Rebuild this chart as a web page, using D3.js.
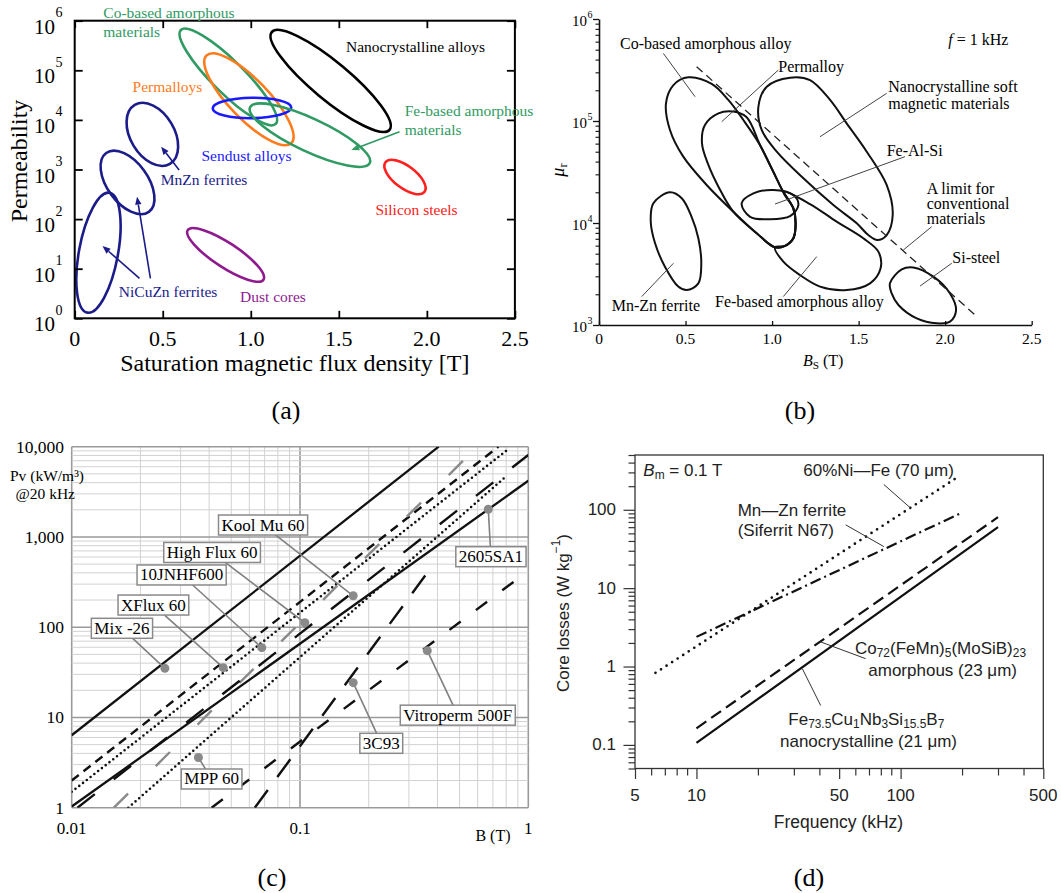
<!DOCTYPE html>
<html><head><meta charset="utf-8">
<script src="https://cdn.jsdelivr.net/npm/d3@7/dist/d3.min.js"></script>
<style>
html,body{margin:0;padding:0;background:#fff;}
svg{display:block;}
</style></head><body>
<svg id="fig" width="1061" height="893"></svg>
<script>
// ================= DATA =================
// ---- Panel (a): permeability vs saturation flux density (ellipse = major-axis ends + aspect) ----
const aNames   = ["NiCuZn ferrites (low)","NiCuZn ferrites (high)","MnZn ferrites","Dust cores","Co-based amorphous materials","Permalloys","Nanocrystalline alloys","Sendust alloys","Fe-based amorphous materials","Silicon steels"];
const aBsStart = [0.198, 0.179, 0.341, 0.642, 0.603, 0.749, 1.119, 0.784, 0.996, 1.765];
const aMuStart = [340, 2150, 20000, 60, 650000, 200000, 590000, 17000, 18000, 1400];
const aBsEnd   = [0.072, 0.421, 0.541, 1.072, 1.142, 1.230, 1.788, 1.230, 1.676, 1.987];
const aMuEnd   = [1.3, 140, 1300, 6, 8300, 3400, 6300, 17800, 1350, 355];
const aAspect  = [0.32, 0.56, 0.64, 0.27, 0.24, 0.32, 0.245, 0.26, 0.25, 0.45];
const aXTicks  = [0, 0.5, 1.0, 1.5, 2.0, 2.5];
const aXTickLabels = ["0","0.5","1.0","1.5","2.0","2.5"];
const aYTicks  = [1, 10, 100, 1e3, 1e4, 1e5, 1e6];
const aYTickExp = ["0","1","2","3","4","5","6"];
const aArrowFromBs = [1.845, 0.593, 0.368, 0.430];
const aArrowFromMu = [5790, 977, 6.4, 6.4];
const aArrowToBs   = [1.571, 0.491, 0.158, 0.354];
const aArrowToMu   = [2470, 2880, 28.7, 283];

// ---- Panel (b): mu_r vs Bs at 1 kHz (closed outlines as [Bs, mu] points) ----
const bCoBased = [[0.516,268000],[0.651,231000],[0.747,161000],[0.834,102300],[0.930,58200],[1.007,31800],[1.061,20700],[1.123,13900],[1.136,9930],[1.123,7080],[1.075,5960],[1.017,5770],[0.911,7930],[0.776,12900],[0.622,23600],[0.487,44700],[0.410,81700],[0.387,149000],[0.430,225000]];
const bPermalloy = [[0.776,123600],[0.853,108600],[0.930,58200],[1.007,31800],[1.061,20700],[1.123,13900],[1.136,9930],[1.123,7080],[1.075,5960],[1.017,5770],[0.911,7930],[0.776,12900],[0.690,22700],[0.632,37100],[0.595,60400],[0.612,91400],[0.690,118900]];
const bNanocryst = [[1.104,266000],[1.219,252000],[1.335,161000],[1.431,94800],[1.547,50000],[1.662,23600],[1.697,11970],[1.662,7620],[1.608,6810],[1.556,7620],[1.489,9930],[1.354,15000],[1.181,27400],[1.027,50000],[0.940,81700],[0.921,138400],[0.969,217000]];
const bFeAlSi = [[0.824,15600],[0.892,19500],[1.007,21100],[1.123,18800],[1.152,15000],[1.104,11700],[0.988,10900],[0.873,11500]];
const bFeBased = [[1.065,20300],[1.219,15350],[1.373,10300],[1.527,7080],[1.614,5240],[1.627,3600],[1.566,2560],[1.431,2200],[1.277,2380],[1.161,3090],[1.065,4180],[1.017,5770],[1.075,5960],[1.123,7080],[1.136,9930],[1.123,13900]];
const bMnZn = [[0.410,20000],[0.478,17500],[0.535,11500],[0.574,7080],[0.591,4030],[0.574,2560],[0.507,2200],[0.458,2380],[0.381,3730],[0.324,6320],[0.299,10300],[0.314,15600]];
const bSiSteel = [[1.681,2560],[1.749,3510],[1.816,3670],[1.932,2980],[2.028,2040],[2.063,1400],[2.028,1080],[1.951,1040],[1.836,1160],[1.730,1570],[1.691,2040]];
const bLimitBs = [0.564, 2.173];
const bLimitMu = [341000, 1254];
const bXTicks = [0, 0.5, 1.0, 1.5, 2.0, 2.5];
const bXTickLabels = ["0","0.5","1.0","1.5","2.0","2.5"];
const bYTicks = [1e3, 1e4, 1e5, 1e6];
const bYTickExp = ["3","4","5","6"];
const bLeaderFromBs = [0.372, 1.036, 1.662, 1.768, 1.922, 2.038, 1.065, 0.247];
const bLeaderFromMu = [460000, 316000, 186600, 44700, 9200, 4030, 1900, 1900];
const bLeaderToBs   = [0.555, 0.709, 1.277, 1.017, 1.758, 1.855, 1.258, 0.430];
const bLeaderToMu   = [173000, 98400, 70100, 15350, 5430, 2410, 4680, 4030];

// ---- Panel (c): core loss Pv vs B at 20 kHz (power-law lines, two end points) ----
const cNames  = ["Mix -26","XFlux 60","10JNHF600","High Flux 60","Kool Mu 60","2605SA1","MPP 60","3C93","Vitroperm 500F"];
const cB1 = [0.01, 0.01, 0.01, 0.0153, 0.0106, 0.01, 0.0177, 0.0634, 0.041];
const cP1 = [6.35, 2.0, 1.5, 1, 1, 1.03, 1, 1, 1];
const cB2 = [0.405, 0.74, 0.8, 0.544, 1, 1, 0.8, 0.378, 0.917];
const cP2 = [10000, 10000, 9000, 7900, 8100, 4190, 4700, 470, 357];
const cDotB = [0.0256, 0.0461, 0.068, 0.105, 0.171, 0.668, 0.0359, 0.171, 0.361];
const cDotP = [35, 35.6, 59.3, 112, 223, 2025, 3.6, 24.3, 55];
const cLabelB = [0.0166, 0.0228, 0.0303, 0.0412, 0.0689, 0.686, 0.041, 0.227, 0.491];
const cLabelP = [97.2, 176, 379, 673, 1356, 604, 2.08, 5.17, 10.6];
const cXTicks = [0.01, 0.1, 1];
const cXTickLabels = ["0.01","0.1","1"];
const cYTicks = [1, 10, 100, 1000, 10000];
const cYTickLabels = ["1","10","100","1,000","10,000"];

// ---- Panel (d): core losses vs frequency at Bm = 0.1 T ----
const dNames = ["60%Ni—Fe (70 μm)","Mn—Zn ferrite (Siferrit N67)","Co72(FeMn)5(MoSiB)23 amorphous","Fe73.5Cu1Nb3Si15.5B7 nanocrystalline"];
const dF1 = [6.3, 10, 10, 10];
const dL1 = [0.83, 2.39, 0.163, 0.106];
const dF2 = [193, 200, 300, 300];
const dL2 = [267, 92, 80.6, 60];
const dXTicks = [5, 10, 50, 100, 500];
const dXTickLabels = ["5","10","50","100","500"];
const dYTicks = [0.1, 1, 10, 100];
const dYTickLabels = ["0.1","1","10","100"];
const dLeaderFromF = [82.8, 53.8, 67.4, 40.6];
const dLeaderFromL = [210, 64.3, 1.26, 0.318];
const dLeaderToF   = [112, 82.8, 40.6, 33];
const dLeaderToL   = [105, 33.9, 2.06, 0.94];

// ================= DRAWING =================
const SERIF = '"Liberation Serif","Times New Roman",serif';
const SANS  = '"Liberation Sans",Arial,sans-serif';
const svg = d3.select("#fig");

function txt(g, x, y, s, o = {}) {
  const fs = o.size || 16;
  const t = g.append("text").attr("x", x).attr("y", y)
    .attr("dominant-baseline", "central")
    .attr("font-family", o.family || SERIF).attr("font-size", fs)
    .attr("fill", o.color || "#000").attr("text-anchor", o.anchor || "start");
  if (o.style) t.attr("font-style", o.style);
  if (o.transform) t.attr("transform", o.transform);
  if (typeof s === "string") { t.text(s); return t; }
  let cur = 0;
  s.forEach(([str, k]) => {
    const off = k === "sub" ? fs * 0.3 : (k === "sup" ? -fs * 0.42 : 0);
    const sp = t.append("tspan").attr("dy", off - cur).text(str);
    if (k === "sub" || k === "sup") sp.attr("font-size", fs * 0.7);
    if (k === "i") sp.attr("font-style", "italic");
    cur = off;
  });
  return t;
}
function styleTicks(sel, color, w) {
  sel.select(".domain").remove();
  sel.selectAll(".tick line").attr("stroke", color).attr("stroke-width", w);
  sel.selectAll(".tick text").remove();
}
function minorLog(lo, hi) {
  const out = [];
  for (let e = Math.floor(Math.log10(lo)); e <= Math.ceil(Math.log10(hi)); e++)
    for (let m = 1; m <= 9; m++) { const v = m * Math.pow(10, e); if (v >= lo * 0.999 && v <= hi * 1.001) out.push(v); }
  return out;
}

// ---------- Panel (a) ----------
{
  const g = svg.append("g");
  const x = d3.scaleLinear().domain([0, 2.5]).range([74.7, 514.9]);
  const y = d3.scaleLog().domain([1, 1e6]).range([318.3, 20.7]);
  const [x0, x1] = x.range(), [y0, y1] = y.range();
  const colors = ["#1b1b8a","#1b1b8a","#1b1b8a","#8e1a8e","#2f9a62","#ff7b1c","#000000","#1a1aff","#2f9a62","#ff2020"];

  aBsStart.forEach((b, i) => {
    const px1 = x(b), py1 = y(aMuStart[i]), px2 = x(aBsEnd[i]), py2 = y(aMuEnd[i]);
    const cx = (px1 + px2) / 2, cy = (py1 + py2) / 2;
    const a = Math.hypot(px2 - px1, py2 - py1) / 2;
    const ang = Math.atan2(py2 - py1, px2 - px1) * 180 / Math.PI;
    g.append("ellipse").attr("cx", cx).attr("cy", cy).attr("rx", a).attr("ry", a * aAspect[i])
      .attr("transform", `rotate(${ang},${cx},${cy})`)
      .attr("fill", "none").attr("stroke", colors[i]).attr("stroke-width", 2.6);
  });

  const arrowColors = ["#2f9a62", "#1b1b8a", "#1b1b8a", "#1b1b8a"];
  aArrowFromBs.forEach((b, i) => {
    const xa = x(b), ya = y(aArrowFromMu[i]), xb = x(aArrowToBs[i]), yb = y(aArrowToMu[i]);
    const ang = Math.atan2(yb - ya, xb - xa), L = 8, W = 3.2;
    const bx = xb - L * Math.cos(ang), by = yb - L * Math.sin(ang);
    g.append("line").attr("x1", xa).attr("y1", ya).attr("x2", bx).attr("y2", by)
      .attr("stroke", arrowColors[i]).attr("stroke-width", 1.6);
    g.append("polygon").attr("points", [
      [xb, yb], [bx - W * Math.sin(ang), by + W * Math.cos(ang)], [bx + W * Math.sin(ang), by - W * Math.cos(ang)]
    ].map(p => p.join(",")).join(" ")).attr("fill", arrowColors[i]);
  });

  g.append("g").attr("transform", `translate(0,${y0})`).call(d3.axisBottom(x).tickValues(aXTicks).tickSize(-7.5).tickSizeOuter(0)).call(s => styleTicks(s, "#000", 1.8));
  g.append("g").attr("transform", `translate(0,${y1})`).call(d3.axisTop(x).tickValues(aXTicks).tickSize(-7.5).tickSizeOuter(0)).call(s => styleTicks(s, "#000", 1.8));
  g.append("g").attr("transform", `translate(${x0},0)`).call(d3.axisLeft(y).tickValues(aYTicks).tickSize(-8).tickSizeOuter(0)).call(s => styleTicks(s, "#000", 1.8));
  g.append("g").attr("transform", `translate(${x1},0)`).call(d3.axisRight(y).tickValues(aYTicks).tickSize(-8).tickSizeOuter(0)).call(s => styleTicks(s, "#000", 1.8));
  g.append("rect").attr("x", x0).attr("y", y1).attr("width", x1 - x0).attr("height", y0 - y1)
    .attr("fill", "none").attr("stroke", "#000").attr("stroke-width", 2);

  aXTicks.forEach((v, i) => txt(g, x(v), 338.5, aXTickLabels[i], { size: 22, anchor: "middle" }));
  aYTicks.forEach((v, i) => {
    txt(g, 55, y(v) + 6, "10", { size: 21, anchor: "end" });
    txt(g, 55.5, y(v) - 8, aYTickExp[i], { size: 14 });
  });
  txt(g, (x0 + x1) / 2 + 0, 363, "Saturation magnetic flux density [T]", { size: 24, anchor: "middle" });
  txt(g, 19, 161, "Permeability", { size: 24, anchor: "middle", transform: "rotate(-90,19,161)" });

  const labs = [
    ["Co-based amorphous", 103.3, 12.5, "#2f9a62"], ["materials", 103.3, 31, "#2f9a62"],
    ["Nanocrystalline alloys", 346, 46, "#000"],
    ["Permalloys", 132.6, 86, "#ff7b1c"],
    ["Fe-based amorphous", 404.7, 110, "#2f9a62"], ["materials", 404.7, 129, "#2f9a62"],
    ["Sendust alloys", 201.5, 155.7, "#1a1aff"],
    ["MnZn ferrites", 160.8, 179, "#1b1b8a"],
    ["Silicon steels", 375.4, 209.3, "#ff2020"],
    ["NiCuZn ferrites", 118.8, 291, "#1b1b8a"],
    ["Dust cores", 240, 296.7, "#8e1a8e"]
  ];
  labs.forEach(([s, lx, ly, c]) => txt(g, lx, ly, s, { size: 15.5, color: c }));
  txt(g, 286, 410, "(a)", { size: 26, anchor: "middle" });
}

// ---------- Panel (b) ----------
{
  const g = svg.append("g");
  const x = d3.scaleLinear().domain([0, 2.5]).range([599, 1031.7]);
  const y = d3.scaleLog().domain([1e3, 1e6]).range([325, 19]);
  const line = d3.line().x(d => x(d[0])).y(d => y(d[1])).curve(d3.curveCatmullRomClosed.alpha(0.5));
  [bCoBased, bPermalloy, bNanocryst, bFeAlSi, bFeBased, bMnZn, bSiSteel].forEach(pts => {
    g.append("path").attr("d", line(pts)).attr("fill", "none").attr("stroke", "#111").attr("stroke-width", 2);
  });
  g.append("line").attr("x1", x(bLimitBs[0])).attr("y1", y(bLimitMu[0])).attr("x2", x(bLimitBs[1])).attr("y2", y(bLimitMu[1]))
    .attr("stroke", "#222").attr("stroke-width", 1.3).attr("stroke-dasharray", "8,5");
  bLeaderFromBs.forEach((b, i) => {
    g.append("line").attr("x1", x(b)).attr("y1", y(bLeaderFromMu[i])).attr("x2", x(bLeaderToBs[i])).attr("y2", y(bLeaderToMu[i]))
      .attr("stroke", "#444").attr("stroke-width", 1);
  });
  // axes
  g.append("g").attr("transform", "translate(0,325)")
    .call(d3.axisBottom(x).tickValues(bXTicks).tickSize(-4).tickSizeOuter(0).tickFormat(""))
    .call(s => { s.select(".domain").attr("stroke", "#111").attr("stroke-width", 1.6); s.selectAll(".tick line").attr("stroke", "#111").attr("stroke-width", 1.3); });
  g.append("g").attr("transform", "translate(599,0)")
    .call(d3.axisLeft(y).tickValues(minorLog(1e3, 1e6).filter(v => !bYTicks.includes(v))).tickSize(3.5).tickSizeOuter(0).tickFormat(""))
    .call(s => { s.select(".domain").attr("stroke", "#111").attr("stroke-width", 1.6); s.selectAll(".tick line").attr("stroke", "#111").attr("stroke-width", 1.1); });
  g.append("g").attr("transform", "translate(599,0)")
    .call(d3.axisLeft(y).tickValues(bYTicks).tickSize(6).tickSizeOuter(0).tickFormat(""))
    .call(s => { s.select(".domain").remove(); s.selectAll(".tick line").attr("stroke", "#111").attr("stroke-width", 1.3); });
  bXTicks.forEach((v, i) => txt(g, x(v), 338.5, bXTickLabels[i], { size: 15.5, anchor: "middle" }));
  bYTicks.forEach((v, i) => {
    txt(g, 587, y(v) + 2, "10", { size: 15, anchor: "end" });
    txt(g, 587.5, y(v) - 5, bYTickExp[i], { size: 10 });
  });
  txt(g, 803, 360, [["B", "i"], ["S", "sub"], [" (T)", "n"]], { size: 16 });
  txt(g, 558, 170, [["μ", "i"], ["r", "sub"]], { size: 18, anchor: "middle", transform: "rotate(-90,558,170)" });
  const labs = [
    ["Co-based amorphous alloy", 620, 43.3], ["Permalloy", 778.3, 66],
    ["Nanocrystalline soft", 888.3, 86.7], ["magnetic materials", 888.3, 103.3],
    ["Fe-Al-Si", 886.7, 150.7],
    ["A limit for", 926.7, 188.3], ["conventional", 926.7, 203.3], ["materials", 926.7, 218.3],
    ["Si-steel", 952.3, 257.3], ["Fe-based amorphous alloy", 715, 301.7], ["Mn-Zn ferrite", 611.7, 305]
  ];
  labs.forEach(([s, lx, ly]) => txt(g, lx, ly, s, { size: 16 }));
  txt(g, 948.3, 39.3, [["f", "i"], [" = 1 kHz", "n"]], { size: 16 });
  txt(g, 800, 410, "(b)", { size: 26, anchor: "middle" });
}

// ---------- Panel (c) ----------
{
  const g = svg.append("g");
  const x = d3.scaleLog().domain([0.01, 1]).range([71.7, 528.3]);
  const y = d3.scaleLog().domain([1, 10000]).range([807.7, 446.7]);
  const [x0, x1] = x.range(), [y0, y1] = y.range();
  svg.append("clipPath").attr("id", "clipC").append("rect").attr("x", x0).attr("y", y1).attr("width", x1 - x0).attr("height", y0 - y1);
  // grid
  minorLog(0.01, 1).forEach(v => {
    const major = cXTicks.includes(v);
    g.append("line").attr("x1", x(v)).attr("x2", x(v)).attr("y1", y1).attr("y2", y0)
      .attr("stroke", major ? "#9a9a9a" : "#d2d2d2").attr("stroke-width", major ? 1.6 : 1);
  });
  minorLog(1, 10000).forEach(v => {
    const major = cYTicks.includes(v);
    g.append("line").attr("y1", y(v)).attr("y2", y(v)).attr("x1", x0).attr("x2", x1)
      .attr("stroke", major ? "#9a9a9a" : "#d2d2d2").attr("stroke-width", major ? 1.6 : 1);
  });
  const styles = {
    "Mix -26":        { c: "#111", w: 2.3, d: null },
    "XFlux 60":       { c: "#111", w: 2.4, d: "9,6" },
    "10JNHF600":      { c: "#111", w: 2.6, d: "0,4.8", cap: "round" },
    "High Flux 60":   { c: "#8a8a8a", w: 2.4, d: "20,39" },
    "Kool Mu 60":     { c: "#111", w: 2.4, d: "22,24" },
    "2605SA1":        { c: "#111", w: 2.3, d: null },
    "MPP 60":         { c: "#111", w: 2.6, d: "0,4.8", cap: "round" },
    "3C93":           { c: "#111", w: 2.4, d: "22,16" },
    "Vitroperm 500F": { c: "#111", w: 2.4, d: "14,19" }
  };
  const lg = g.append("g").attr("clip-path", "url(#clipC)");
  cNames.forEach((n, i) => {
    const st = styles[n];
    const l = lg.append("line").attr("x1", x(cB1[i])).attr("y1", y(cP1[i])).attr("x2", x(cB2[i])).attr("y2", y(cP2[i]))
      .attr("stroke", st.c).attr("stroke-width", st.w);
    if (st.d) l.attr("stroke-dasharray", st.d);
    if (st.cap) l.attr("stroke-linecap", st.cap);
  });
  cNames.forEach((n, i) => {
    g.append("line").attr("x1", x(cLabelB[i])).attr("y1", y(cLabelP[i])).attr("x2", x(cDotB[i])).attr("y2", y(cDotP[i]))
      .attr("stroke", "#808080").attr("stroke-width", 1.6);
    g.append("circle").attr("cx", x(cDotB[i])).attr("cy", y(cDotP[i])).attr("r", 4.5).attr("fill", "#8a8a8a");
  });
  cNames.forEach((n, i) => {
    const lg2 = g.append("g");
    const r = lg2.append("rect");
    const t = txt(lg2, x(cLabelB[i]), y(cLabelP[i]), n, { size: 17, anchor: "middle" });
    const bb = t.node().getBBox();
    r.attr("x", bb.x - 3).attr("y", bb.y - 0.5).attr("width", bb.width + 6).attr("height", bb.height + 1)
      .attr("fill", "#fff").attr("stroke", "#8a8a8a").attr("stroke-width", 1.5);
  });
  cXTicks.forEach((v, i) => txt(g, x(v), 828, cXTickLabels[i], { size: 17, anchor: "middle" }));
  cYTicks.forEach((v, i) => txt(g, 64, y(v), cYTickLabels[i], { size: 17.5, anchor: "end" }));
  txt(g, 493, 835, "B (T)", { size: 16, anchor: "middle" });
  txt(g, 10, 475, "Pv (kW/m³)", { size: 15.5 });
  txt(g, 15.5, 493, "@20 kHz", { size: 15.5 });
  txt(g, 272, 877, "(c)", { size: 26, anchor: "middle" });
}

// ---------- Panel (d) ----------
{
  const g = svg.append("g");
  const x = d3.scaleLog().domain([5, 500]).range([635, 1043.3]);
  const y = d3.scaleLog().domain([0.05, 500]).range([768.5, 455]);
  const [x0, x1] = x.range(), [y0, y1] = y.range();
  const styles = [
    { d: "0,6.6", w: 2.7, cap: "round" },
    { d: "11,4,2,4", w: 2.2 },
    { d: "12,6", w: 2.2 },
    { d: null, w: 2.2 }
  ];
  dF1.forEach((f, i) => {
    const l = g.append("line").attr("x1", x(f)).attr("y1", y(dL1[i])).attr("x2", x(dF2[i])).attr("y2", y(dL2[i]))
      .attr("stroke", "#111").attr("stroke-width", styles[i].w);
    if (styles[i].d) l.attr("stroke-dasharray", styles[i].d);
    if (styles[i].cap) l.attr("stroke-linecap", styles[i].cap);
  });
  dLeaderFromF.forEach((f, i) => {
    g.append("line").attr("x1", x(f)).attr("y1", y(dLeaderFromL[i])).attr("x2", x(dLeaderToF[i])).attr("y2", y(dLeaderToL[i]))
      .attr("stroke", "#333").attr("stroke-width", 1);
  });
  g.append("rect").attr("x", x0).attr("y", y1).attr("width", x1 - x0).attr("height", y0 - y1)
    .attr("fill", "none").attr("stroke", "#333").attr("stroke-width", 1.3);
  const tickStyle = s => { s.select(".domain").remove(); s.selectAll(".tick line").attr("stroke", "#333").attr("stroke-width", 1.2); };
  g.append("g").attr("transform", `translate(0,${y0})`).call(d3.axisBottom(x).tickValues(minorLog(5, 500).filter(v => !dXTicks.includes(v))).tickSize(7).tickFormat("")).call(tickStyle);
  g.append("g").attr("transform", `translate(0,${y0})`).call(d3.axisBottom(x).tickValues(dXTicks).tickSize(10.5).tickFormat("")).call(tickStyle);
  g.append("g").attr("transform", `translate(${x0},0)`).call(d3.axisLeft(y).tickValues(minorLog(0.05, 500).filter(v => !dYTicks.includes(v))).tickSize(6.5).tickFormat("")).call(tickStyle);
  g.append("g").attr("transform", `translate(${x0},0)`).call(d3.axisLeft(y).tickValues(dYTicks).tickSize(11.5).tickFormat("")).call(tickStyle);
  dXTicks.forEach((v, i) => txt(g, x(v), 795, dXTickLabels[i], { size: 17, anchor: "middle", family: SANS, color: "#222" }));
  dYTicks.forEach((v, i) => txt(g, 616, y(v), dYTickLabels[i], { size: 17, anchor: "end", family: SANS, color: "#222" }));
  txt(g, 838.5, 822, "Frequency (kHz)", { size: 17.5, anchor: "middle", family: SANS, color: "#222" });
  txt(g, 563, 613, [["Core losses (W kg", "n"], ["−1", "sup"], [")", "n"]], { size: 17, anchor: "middle", family: SANS, color: "#222", transform: "rotate(-90,563,613)" });
  const o = { size: 17, family: SANS, color: "#222" };
  txt(g, 643.3, 470, [["B", "i"], ["m", "sub"], [" = 0.1 T", "n"]], o);
  txt(g, 803.3, 470, "60%Ni—Fe (70 μm)", o);
  txt(g, 737.7, 510, "Mn—Zn ferrite", o);
  txt(g, 737.7, 530, "(Siferrit N67)", o);
  txt(g, 855, 647.5, [["Co", "n"], ["72", "sub"], ["(FeMn)", "n"], ["5", "sub"], ["(MoSiB)", "n"], ["23", "sub"]], o);
  txt(g, 868.3, 670.5, "amorphous (23 μm)", o);
  txt(g, 788.3, 719, [["Fe", "n"], ["73.5", "sub"], ["Cu", "n"], ["1", "sub"], ["Nb", "n"], ["3", "sub"], ["Si", "n"], ["15.5", "sub"], ["B", "n"], ["7", "sub"]], o);
  txt(g, 780, 741, "nanocrystalline (21 μm)", o);
  txt(g, 809, 877, "(d)", { size: 26, anchor: "middle" });
}
</script>
</body></html>
